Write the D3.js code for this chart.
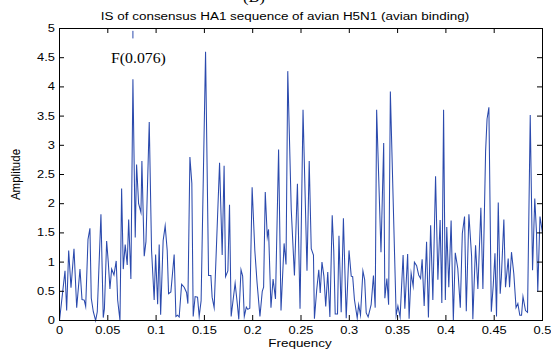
<!DOCTYPE html>
<html>
<head>
<meta charset="utf-8">
<script src="https://cdn.jsdelivr.net/npm/d3@7"></script>
<style>
  html, body { margin: 0; padding: 0; background: #fff; }
  svg { display: block; }
  text { font-family: "Liberation Sans", Arial, Helvetica, sans-serif; fill: #000; }
</style>
</head>
<body>
<svg id="chart" width="551" height="352"></svg>
<script>
// Informational spectrum (IS) of the HA1 consensus sequence: frequency / amplitude vertices
const freqs = [
  0.0000, 0.0057, 0.0074, 0.0095, 0.0119, 0.0150, 0.0178, 0.0212, 0.0233, 0.0256,
  0.0271, 0.0295, 0.0315, 0.0329, 0.0350, 0.0374, 0.0391, 0.0429, 0.0453, 0.0465,
  0.0488, 0.0505, 0.0522, 0.0540, 0.0564, 0.0587, 0.0602, 0.0626, 0.0643, 0.0660,
  0.0680, 0.0701, 0.0716, 0.0739, 0.0760, 0.0784, 0.0798, 0.0819, 0.0843, 0.0853,
  0.0877, 0.0895, 0.0929, 0.0953, 0.0980, 0.0995, 0.1016, 0.1032, 0.1047, 0.1073,
  0.1094, 0.1115, 0.1129, 0.1153, 0.1187, 0.1205, 0.1222, 0.1239, 0.1264, 0.1291,
  0.1315, 0.1329, 0.1350, 0.1370, 0.1384, 0.1404, 0.1429, 0.1446, 0.1466, 0.1512,
  0.1543, 0.1567, 0.1580, 0.1601, 0.1657, 0.1684, 0.1704, 0.1719, 0.1743, 0.1760,
  0.1777, 0.1818, 0.1841, 0.1856, 0.1879, 0.1896, 0.1913, 0.1934, 0.1949, 0.1970,
  0.1994, 0.2022, 0.2045, 0.2075, 0.2099, 0.2113, 0.2130, 0.2151, 0.2164, 0.2189,
  0.2211, 0.2236, 0.2268, 0.2293, 0.2325, 0.2345, 0.2363, 0.2399, 0.2432, 0.2463,
  0.2490, 0.2521, 0.2562, 0.2585, 0.2606, 0.2629, 0.2639, 0.2663, 0.2684, 0.2699,
  0.2717, 0.2737, 0.2756, 0.2777, 0.2799, 0.2823, 0.2839, 0.2854, 0.2878, 0.2893,
  0.2916, 0.2939, 0.2968, 0.2997, 0.3020, 0.3035, 0.3053, 0.3082, 0.3097, 0.3116,
  0.3141, 0.3159, 0.3175, 0.3195, 0.3226, 0.3250, 0.3268, 0.3283, 0.3328, 0.3356,
  0.3368, 0.3389, 0.3407, 0.3425, 0.3485, 0.3503, 0.3526, 0.3557, 0.3575, 0.3604,
  0.3619, 0.3640, 0.3661, 0.3674, 0.3697, 0.3718, 0.3738, 0.3754, 0.3775, 0.3800,
  0.3819, 0.3842, 0.3865, 0.3893, 0.3917, 0.3940, 0.3958, 0.3976, 0.3994, 0.4009,
  0.4030, 0.4054, 0.4077, 0.4097, 0.4123, 0.4149, 0.4170, 0.4193, 0.4211, 0.4238,
  0.4266, 0.4279, 0.4307, 0.4331, 0.4362, 0.4383, 0.4411, 0.4426, 0.4445, 0.4470,
  0.4490, 0.4508, 0.4524, 0.4542, 0.4562, 0.4574, 0.4600, 0.4617, 0.4645, 0.4659,
  0.4679, 0.4703, 0.4726, 0.4745, 0.4765, 0.4783, 0.4798, 0.4824, 0.4845, 0.4873,
  0.4897, 0.4920, 0.4938, 0.4951, 0.4974, 0.5000
];
const amps = [
  0.00, 0.85, 0.17, 1.20, 0.56, 1.23, 0.22, 0.88, 0.36, 0.35,
  0.24, 1.39, 1.58, 0.38, 0.15, 0.00, 0.15, 1.82, 0.05, 0.20,
  1.36, 1.00, 0.54, 0.88, 0.78, 1.02, 0.35, 0.00, 2.26, 0.88,
  1.30, 0.95, 1.73, 0.71, 4.13, 1.42, 2.67, 2.00, 1.85, 2.73,
  1.10, 1.35, 3.40, 1.20, 0.35, 1.13, 0.28, 1.30, 0.10, 1.37,
  1.62, 1.20, 0.46, 0.49, 1.13, 0.07, 0.09, 0.06, 0.62, 0.57,
  0.48, 0.29, 2.80, 2.35, 0.07, 0.41, 0.40, 0.07, 0.34, 4.60,
  0.77, 0.77, 0.40, 0.22, 2.70, 1.12, 2.65, 0.75, 0.85, 1.98,
  0.07, 0.64, 0.28, 0.02, 0.87, 0.76, 0.07, 0.23, 0.19, 0.21,
  2.28, 1.20, 0.65, 0.07, 0.50, 0.57, 2.20, 1.43, 1.56, 0.22,
  0.71, 0.37, 2.93, 0.17, 1.32, 0.96, 4.27, 1.90, 0.77, 2.34,
  0.20, 3.61, 0.85, 2.73, 1.23, 1.12, 0.03, 0.53, 0.87, 0.47,
  1.00, 0.76, 0.24, 0.83, 0.06, 1.80, 1.20, 0.11, 0.11, 1.45,
  0.14, 1.75, 0.04, 1.20, 0.76, 0.75, 0.36, 0.04, 0.27, 0.09,
  0.85, 0.70, 0.13, 0.06, 0.27, 0.77, 0.22, 3.61, 1.17, 3.04,
  0.38, 0.72, 0.27, 3.92, 0.09, 0.25, 0.06, 1.12, 0.20, 1.14,
  0.03, 0.81, 0.59, 1.00, 0.94, 0.78, 0.72, 1.05, 0.25, 1.35,
  0.05, 1.63, 0.35, 2.47, 0.70, 1.72, 0.30, 3.61, 0.35, 1.60,
  0.57, 1.71, 0.00, 1.16, 0.89, 0.22, 1.49, 1.78, 0.16, 1.82,
  1.10, 0.02, 1.29, 0.54, 1.93, 0.54, 2.90, 3.45, 3.65, 0.15,
  0.60, 1.15, 0.07, 2.02, 0.46, 0.74, 1.73, 0.57, 1.06, 0.57,
  1.17, 0.80, 0.22, 0.29, 0.09, 0.09, 0.41, 0.17, 0.14, 3.52,
  0.86, 2.09, 1.50, 0.50, 1.78, 1.50
];

const xTicks = [0, 0.05, 0.1, 0.15, 0.2, 0.25, 0.3, 0.35, 0.4, 0.45, 0.5];
const yTicks = [0, 0.5, 1, 1.5, 2, 2.5, 3, 3.5, 4, 4.5, 5];
const xDomain = [0, 0.5];
const yDomain = [0, 5];

const panelTag = "(B)";
const titleText = "IS of consensus HA1 sequence of avian H5N1 (avian binding)";
const xLabel = "Frequency";
const yLabel = "Amplitude";
const peakLabel = "F(0.076)";
const peakFreq = 0.076;
const peakMarkAmps = [4.83, 4.96];

const svg = d3.select("#chart");
const W = 551, H = 352;
const plot = { left: 59, right: 542, top: 28, bottom: 320 };
const stretch = 1.17;

const x = d3.scaleLinear().domain(xDomain).range([plot.left, plot.right]);
const y = d3.scaleLinear().domain(yDomain).range([plot.bottom, plot.top]);

svg.append("rect").attr("width", W).attr("height", H).attr("fill", "#fff");

// spectrum curve
const pts = freqs.map((f, i) => [f, amps[i]]);
const line = d3.line().x(d => x(d[0]) + 0.5).y(d => y(d[1]) + 0.5);
svg.append("path")
  .datum(pts)
  .attr("d", line)
  .attr("fill", "none")
  .attr("stroke", "#2b4aad")
  .attr("stroke-width", 1.05)
  .attr("stroke-linejoin", "miter")
  .attr("stroke-miterlimit", 10);

// small mark above the dominant peak
svg.append("line")
  .attr("x1", x(peakFreq) + 0.5).attr("x2", x(peakFreq) + 0.5)
  .attr("y1", y(peakMarkAmps[0]) + 0.5).attr("y2", y(peakMarkAmps[1]) + 0.5)
  .attr("stroke", "#2b4aad").attr("stroke-width", 1);

// axes box with inward ticks on all sides
function styleAxis(g) {
  g.select(".domain").remove();
  g.selectAll(".tick line").attr("stroke", "#000").attr("stroke-width", 1);
  g.attr("font-family", null).attr("font-size", null);
}

const gBottom = svg.append("g")
  .attr("transform", `translate(0,${plot.bottom})`)
  .call(d3.axisBottom(x).tickValues(xTicks).tickSizeInner(-5).tickSizeOuter(0)
    .tickPadding(6).tickFormat(d3.format("")));
styleAxis(gBottom);
gBottom.selectAll("text")
  .style("font-size", "11px")
  .attr("transform", `scale(${stretch},1)`);

const gTop = svg.append("g")
  .attr("transform", `translate(0,${plot.top})`)
  .call(d3.axisTop(x).tickValues(xTicks).tickSizeInner(-5).tickSizeOuter(0).tickFormat(""));
styleAxis(gTop);

const gLeft = svg.append("g")
  .attr("transform", `translate(${plot.left},0)`)
  .call(d3.axisLeft(y).tickValues(yTicks).tickSizeInner(-5).tickSizeOuter(0)
    .tickPadding(3.5).tickFormat(d3.format("")));
styleAxis(gLeft);
gLeft.selectAll("text")
  .style("font-size", "11px")
  .attr("transform", `scale(${stretch},1)`);

const gRight = svg.append("g")
  .attr("transform", `translate(${plot.right},0)`)
  .call(d3.axisRight(y).tickValues(yTicks).tickSizeInner(-5).tickSizeOuter(0).tickFormat(""));
styleAxis(gRight);

svg.append("rect")
  .attr("x", plot.left + 0.5).attr("y", plot.top + 0.5)
  .attr("width", plot.right - plot.left).attr("height", plot.bottom - plot.top)
  .attr("fill", "none").attr("stroke", "#000").attr("stroke-width", 1);

// labels
svg.append("text")
  .attr("transform", `translate(254,1.5) scale(${stretch},1)`)
  .attr("text-anchor", "middle")
  .style("font-family", "'Liberation Serif','Times New Roman',serif")
  .style("font-size", "14px")
  .text(panelTag);

svg.append("text")
  .attr("transform", `translate(285,19.5) scale(${stretch},1)`)
  .attr("text-anchor", "middle")
  .style("font-size", "11.5px")
  .text(titleText);

svg.append("text")
  .attr("transform", `translate(300,346.5) scale(${stretch},1)`)
  .attr("text-anchor", "middle")
  .style("font-size", "11.5px")
  .text(xLabel);

svg.append("text")
  .attr("transform", `translate(20,${(plot.top + plot.bottom) / 2 + 0.5}) scale(${stretch},1) rotate(-90)`)
  .attr("text-anchor", "middle")
  .style("font-size", "11.5px")
  .text(yLabel);

svg.append("text")
  .attr("transform", `translate(111,62.5) scale(1.13,1)`)
  .attr("text-anchor", "start")
  .style("font-family", "'Liberation Serif','Times New Roman',serif")
  .style("font-size", "14px")
  .text(peakLabel);
</script>
</body>
</html>
